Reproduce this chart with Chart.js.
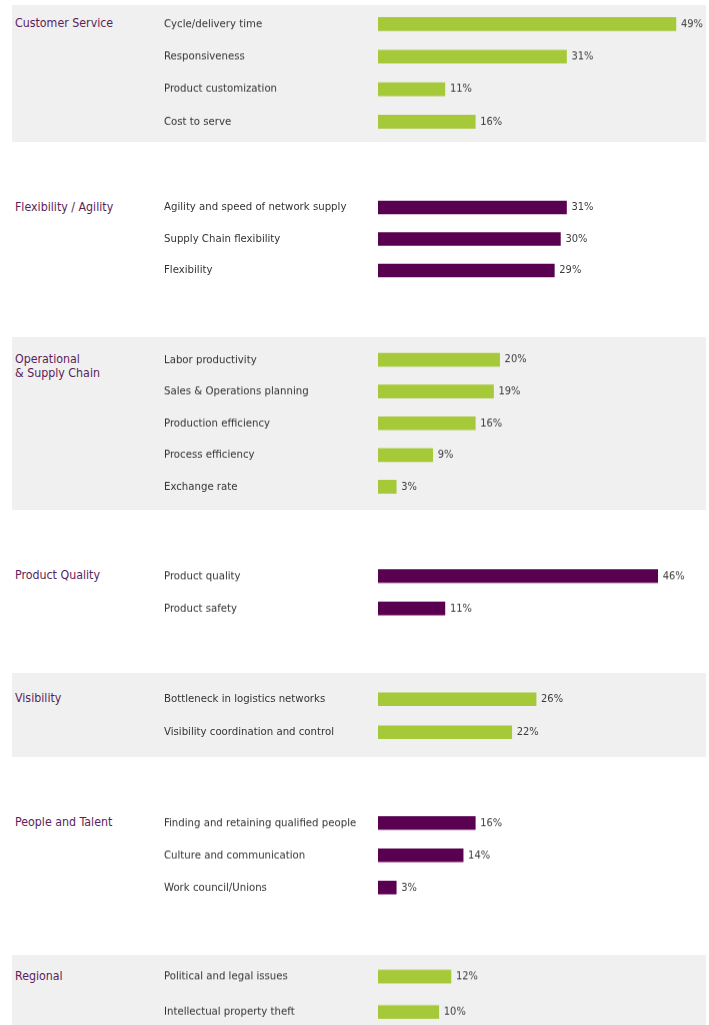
<!DOCTYPE html>
<html>
<head>
<meta charset="utf-8">
<script src="https://cdn.jsdelivr.net/npm/chart.js@4/dist/chart.umd.min.js"></script>
<style>
  html, body { margin: 0; padding: 0; background: #ffffff; }
  #page { position: relative; width: 709px; height: 1025px; overflow: hidden; }
  .panel { position: absolute; left: 12px; width: 694px; background: #f0f0f0; }
  .title { position: absolute; left: 15px; color: #5a1e5a; line-height: 22px;
           font: 12.3px 'Liberation Sans Narrow', 'DejaVu Sans Condensed', 'Liberation Sans', sans-serif; }
  .box { position: absolute; left: 164px; width: 545px; }
</style>
</head>
<body>
<div id="page"></div>
<script>
// Section headings
const sectionTitles = [
  'Customer Service',
  'Flexibility / Agility',
  'Operational\n& Supply Chain',
  'Product Quality',
  'Visibility',
  'People and Talent',
  'Regional'
];

// Items and shares (%) for each section
const customerServiceItems = ['Cycle/delivery time', 'Responsiveness', 'Product customization', 'Cost to serve'];
const customerServiceValues = [49, 31, 11, 16];

const flexibilityItems = ['Agility and speed of network supply', 'Supply Chain flexibility', 'Flexibility'];
const flexibilityValues = [31, 30, 29];

const operationalItems = ['Labor productivity', 'Sales & Operations planning', 'Production efficiency', 'Process efficiency', 'Exchange rate'];
const operationalValues = [20, 19, 16, 9, 3];

const productQualityItems = ['Product quality', 'Product safety'];
const productQualityValues = [46, 11];

const visibilityItems = ['Bottleneck in logistics networks', 'Visibility coordination and control'];
const visibilityValues = [26, 22];

const peopleItems = ['Finding and retaining qualified people', 'Culture and communication', 'Work council/Unions'];
const peopleValues = [16, 14, 3];

const regionalItems = ['Political and legal issues', 'Intellectual property theft'];
const regionalValues = [12, 10];

const GREEN = '#a6c93a';
const PURPLE = '#5a0051';
const FONT = "'Liberation Sans Narrow', 'DejaVu Sans Condensed', 'Liberation Sans', sans-serif";
const LABEL_SIZE = 11.3;
// the category axis keeps half a label height free above and below
const AXIS_PAD = LABEL_SIZE * 1.2 / 2;

// Layout of each block: first row centre, row pitch, shaded panel extent
const sections = [
  { items: customerServiceItems, values: customerServiceValues, color: GREEN,  firstRow: 24,    row: 32.3, panel: [5, 142] },
  { items: flexibilityItems,     values: flexibilityValues,     color: PURPLE, firstRow: 208,   row: 31.5, panel: null },
  { items: operationalItems,     values: operationalValues,     color: GREEN,  firstRow: 360,   row: 31.6, panel: [337, 510] },
  { items: productQualityItems,  values: productQualityValues,  color: PURPLE, firstRow: 576,   row: 32,   panel: null },
  { items: visibilityItems,      values: visibilityValues,      color: GREEN,  firstRow: 699,   row: 33,   panel: [673, 757] },
  { items: peopleItems,          values: peopleValues,          color: PURPLE, firstRow: 823,   row: 32,   panel: null },
  { items: regionalItems,        values: regionalValues,        color: GREEN,  firstRow: 976.5, row: 35,   panel: [955, 1025] }
];

// Writes "NN%" just past the end of each bar
const valueLabels = {
  id: 'valueLabels',
  afterDatasetsDraw(chart) {
    const ctx = chart.ctx;
    const meta = chart.getDatasetMeta(0);
    const data = chart.data.datasets[0].data;
    ctx.save();
    ctx.font = '11px ' + FONT;
    ctx.fillStyle = '#3c3c3c';
    ctx.textAlign = 'left';
    ctx.textBaseline = 'middle';
    meta.data.forEach((bar, i) => {
      ctx.fillText(data[i] + '%', bar.x + 5, bar.y);
    });
    ctx.restore();
  }
};

const page = document.getElementById('page');

sections.forEach((s, idx) => {
  if (s.panel) {
    const p = document.createElement('div');
    p.className = 'panel';
    p.style.top = s.panel[0] + 'px';
    p.style.height = (s.panel[1] - s.panel[0]) + 'px';
    page.appendChild(p);
  }

  const t = document.createElement('div');
  t.className = 'title';
  t.style.top = (s.firstRow - 8) + 'px';
  t.innerHTML = sectionTitles[idx].split('\n').join('<br>');
  page.appendChild(t);

  const h = s.items.length * s.row + 2 * AXIS_PAD;
  const box = document.createElement('div');
  box.className = 'box';
  box.style.top = (s.firstRow - s.row / 2 - AXIS_PAD) + 'px';
  box.style.height = h + 'px';
  const canvas = document.createElement('canvas');
  box.appendChild(canvas);
  page.appendChild(box);

  new Chart(canvas, {
    type: 'bar',
    data: {
      labels: s.items,
      datasets: [{
        data: s.values,
        backgroundColor: s.color,
        borderWidth: 0,
        barThickness: 13
      }]
    },
    options: {
      indexAxis: 'y',
      responsive: true,
      maintainAspectRatio: false,
      animation: false,
      layout: { padding: { left: 0, right: 27, top: 0, bottom: 0 } },
      plugins: { legend: { display: false }, tooltip: { enabled: false } },
      scales: {
        x: { display: false, min: 0, max: 50 },
        y: {
          grid: { display: false, drawTicks: false },
          border: { display: false },
          ticks: {
            crossAlign: 'far',
            padding: 0,
            color: '#333333',
            font: { family: FONT, size: LABEL_SIZE }
          },
          afterFit(scale) { scale.width = 214; }
        }
      }
    },
    plugins: [valueLabels]
  });
});
</script>
</body>
</html>
